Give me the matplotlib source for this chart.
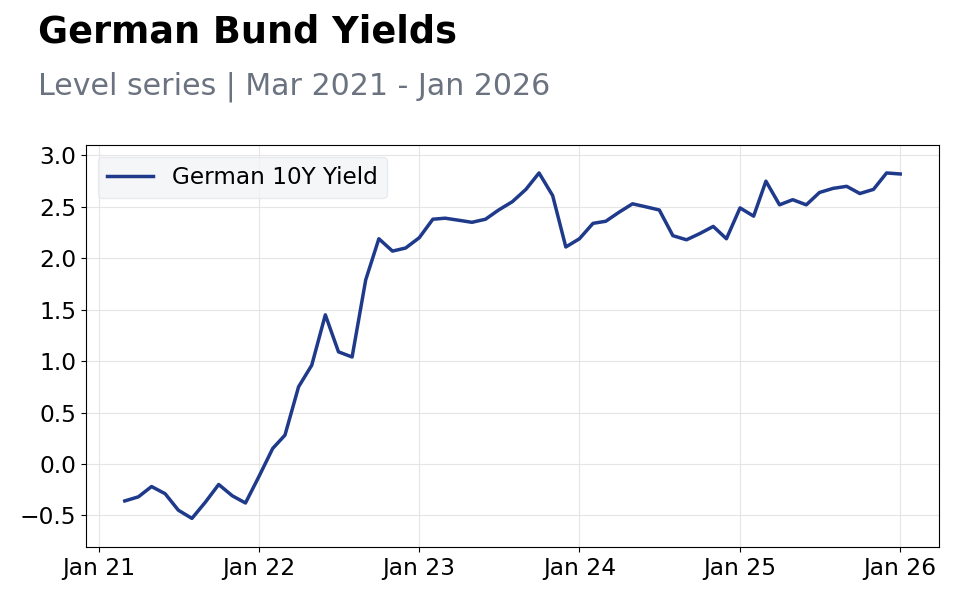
import pandas as pd
import matplotlib
matplotlib.use("Agg")
import matplotlib.pyplot as plt
import matplotlib.dates as mdates

# monthly observations, Mar 2021 .. Jan 2026
dates = pd.date_range("2021-03-01", "2026-01-01", freq="MS")

yield_10y = [
    -0.36, -0.32, -0.22, -0.29, -0.45, -0.53, -0.37, -0.20, -0.31, -0.38,  # 2021
    -0.12, 0.15, 0.28, 0.75, 0.96, 1.45, 1.09, 1.04, 1.79, 2.19, 2.07, 2.10,  # 2022
    2.20, 2.38, 2.39, 2.37, 2.35, 2.38, 2.47, 2.55, 2.67, 2.83, 2.61, 2.11,  # 2023
    2.19, 2.34, 2.36, 2.45, 2.53, 2.50, 2.47, 2.22, 2.18, 2.24, 2.31, 2.19,  # 2024
    2.49, 2.41, 2.75, 2.52, 2.57, 2.52, 2.64, 2.68, 2.70, 2.63, 2.67, 2.83,  # 2025
    2.82,  # 2026
]

series_label = "German 10Y Yield"
title = "German Bund Yields"
subtitle = "Level series | Mar 2021 - Jan 2026"

fig = plt.figure(figsize=(9.6, 6), dpi=100)
ax = fig.add_axes([0.0896, 0.088, 0.8885, 0.670])

ax.plot(dates, yield_10y, color="#1f3a8a", linewidth=2.5, label=series_label)

ax.set_ylim(-0.81, 3.1)
ax.xaxis.set_major_locator(mdates.YearLocator())
ax.xaxis.set_major_formatter(mdates.DateFormatter("%b %y"))
ax.tick_params(labelsize=16.8)
ax.grid(True, color="#e5e5e5", linewidth=0.8)
ax.set_axisbelow(True)

leg = ax.legend(loc="upper left", fontsize=16.7, frameon=True)
leg.get_frame().set_facecolor("#f3f4f6")
leg.get_frame().set_edgecolor("#e5e7eb")

fig.text(0.04, 0.947, title, fontsize=26.4, fontweight="bold", va="center")
fig.text(0.04, 0.855, subtitle, fontsize=21.6, color="#6b7280", va="center")

fig.savefig("out.png", dpi=100)
